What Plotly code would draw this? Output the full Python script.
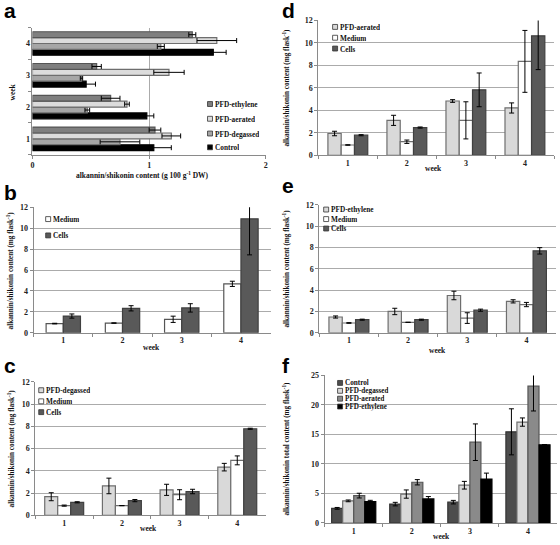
import plotly.graph_objects as go

W, H = 560, 545

weeks = ["1", "2", "3", "4"]

# ---- panel a (g 100 g-1 DW), horizontal ----
a_control = [1.04, 0.98, 0.46, 1.55]
a_control_err = [0.15, 0.06, 0.08, 0.11]
a_degassed = [0.75, 0.47, 0.42, 1.10]
a_degassed_err = [0.17, 0.02, 0.01, 0.03]
a_aerated = [1.19, 0.81, 1.17, 1.58]
a_aerated_err = [0.08, 0.02, 0.13, 0.17]
a_ethylene = [1.05, 0.67, 0.55, 1.37]
a_ethylene_err = [0.05, 0.08, 0.04, 0.03]

# ---- panel b ----
b_medium = [0.88, 0.93, 1.29, 4.68]
b_medium_err = [0.03, 0.02, 0.30, 0.25]
b_cells = [1.60, 2.34, 2.38, 10.9]
b_cells_err = [0.20, 0.25, 0.40, 3.45]

# ---- panel c ----
c_pfd = [1.68, 2.65, 2.30, 4.34]
c_pfd_err = [0.36, 0.70, 0.50, 0.34]
c_medium = [0.88, 0.88, 1.86, 4.95]
c_medium_err = [0.05, 0.0, 0.45, 0.40]
c_cells = [1.18, 1.33, 2.15, 7.79]
c_cells_err = [0.05, 0.10, 0.20, 0.05]

# ---- panel d ----
d_pfd = [1.95, 3.12, 4.84, 4.22]
d_pfd_err = [0.20, 0.45, 0.12, 0.45]
d_medium = [0.93, 1.22, 3.12, 8.36]
d_medium_err = [0.02, 0.15, 1.65, 2.75]
d_cells = [1.80, 2.48, 5.83, 10.63]
d_cells_err = [0.05, 0.05, 1.50, 3.0]

# ---- panel e ----
e_pfd = [1.48, 2.00, 3.50, 2.95]
e_pfd_err = [0.10, 0.30, 0.40, 0.15]
e_medium = [0.92, 0.98, 1.38, 2.65]
e_medium_err = [0.03, 0.0, 0.50, 0.20]
e_cells = [1.23, 1.23, 2.12, 7.69]
e_cells_err = [0.05, 0.05, 0.10, 0.30]

# ---- panel f (total) ----
f_control = [2.48, 3.20, 3.53, 15.45]
f_control_err = [0.15, 0.30, 0.30, 3.90]
f_degassed = [3.75, 4.90, 6.40, 17.10]
f_degassed_err = [0.15, 0.70, 0.65, 0.70]
f_aerated = [4.64, 6.90, 13.69, 23.18]
f_aerated_err = [0.40, 0.45, 3.10, 4.20]
f_ethylene = [3.64, 4.08, 7.45, 13.25]
f_ethylene_err = [0.20, 0.40, 1.00, 0.05]

SERIF = "Liberation Serif"
SANS = "Liberation Sans"
OUTLINE = "#6e6e6e"
GRID = "#ababab"
AXIS = "#8a8a8a"

fig = go.Figure()


def err(vals):
    return dict(type="data", array=vals, visible=True, color="black", thickness=1, width=2.5)


def vbar(y, e, color, name, ax, width, offset, line=OUTLINE):
    fig.add_trace(go.Bar(
        x=weeks, y=y, error_y=err(e), name=name, showlegend=False,
        marker=dict(color=color, line=dict(color=line, width=1.2)),
        width=width, offset=offset,
        xaxis="x" + ax, yaxis="y" + ax))


def hbar(x, e, color, name, width, offset, line=OUTLINE):
    fig.add_trace(go.Bar(
        y=weeks, x=x, error_x=err(e), name=name, orientation="h", showlegend=False,
        marker=dict(color=color, line=dict(color=line, width=1.2)),
        width=width, offset=offset, xaxis="x", yaxis="y"))


# panel a (bottom to top inside each week: Control, degassed, aerated, ethylene)
hbar(a_control, a_control_err, "#000000", "Control", 0.185, -0.37, line="#000000")
hbar(a_degassed, a_degassed_err, "#a6a6a6", "PFD-degassed", 0.185, -0.185)
hbar(a_aerated, a_aerated_err, "#dcdcdc", "PFD-aerated", 0.185, 0.0)
hbar(a_ethylene, a_ethylene_err, "#7f7f7f", "PFD-ethylene", 0.185, 0.185, line="#555555")

# panel b
vbar(b_medium, b_medium_err, "#ffffff", "Medium", "2", 0.29, -0.29, line="#555555")
vbar(b_cells, b_cells_err, "#595959", "Cells", "2", 0.29, 0.0, line="#404040")

# panel c
vbar(c_pfd, c_pfd_err, "#d9d9d9", "PFD-degassed", "3", 0.225, -0.3375)
vbar(c_medium, c_medium_err, "#ffffff", "Medium", "3", 0.225, -0.1125)
vbar(c_cells, c_cells_err, "#595959", "Cells", "3", 0.225, 0.1125, line="#404040")

# panel d
vbar(d_pfd, d_pfd_err, "#d9d9d9", "PFD-aerated", "4", 0.225, -0.3375)
vbar(d_medium, d_medium_err, "#ffffff", "Medium", "4", 0.225, -0.1125)
vbar(d_cells, d_cells_err, "#595959", "Cells", "4", 0.225, 0.1125, line="#404040")

# panel e
vbar(e_pfd, e_pfd_err, "#d9d9d9", "PFD-ethylene", "5", 0.225, -0.3375)
vbar(e_medium, e_medium_err, "#ffffff", "Medium", "5", 0.225, -0.1125)
vbar(e_cells, e_cells_err, "#595959", "Cells", "5", 0.225, 0.1125, line="#404040")

# panel f
vbar(f_control, f_control_err, "#4d4d4d", "Control", "6", 0.19, -0.38, line="#333333")
vbar(f_degassed, f_degassed_err, "#d9d9d9", "PFD-degassed", "6", 0.19, -0.19)
vbar(f_aerated, f_aerated_err, "#8a8a8a", "PFD-aerated", "6", 0.19, 0.0, line="#555555")
vbar(f_ethylene, f_ethylene_err, "#000000", "PFD-ethylene", "6", 0.19, 0.19, line="#000000")


def px(x):
    return x / W


def py(y):
    return 1 - y / H


tickfont = dict(family=SERIF, size=8, color="#222222", weight="bold")


def cat_axis(dom):
    return dict(domain=dom, type="category", categoryorder="array", categoryarray=weeks,
                range=[-0.5, 3.5], showline=True, linecolor=AXIS, linewidth=1,
                ticks="outside", tickson="boundaries", ticklen=3, tickcolor=AXIS,
                showgrid=False, zeroline=False, tickfont=tickfont, fixedrange=True)


def val_axis(dom, rng, dtick):
    return dict(domain=dom, range=rng, dtick=dtick, showline=True, linecolor=AXIS, linewidth=1,
                ticks="outside", ticklen=3, tickcolor=AXIS, showgrid=True, gridcolor=GRID,
                gridwidth=1, zeroline=False, tickfont=tickfont, fixedrange=True)


panels = {
    # name: (x0, x1, top, bottom) in px
    "a": (30.7, 265.7, 24, 153.3),
    "b": (31.9, 270.5, 206.7, 334.3),
    "c": (33.6, 266.0, 384.3, 520.0),
    "d": (318.6, 556.4, 16.7, 154.0),
    "e": (319.6, 558.0, 204.3, 334.3),
    "f": (325.0, 559.0, 377.7, 527.7),
}


def dom(p):
    x0, x1, t, b = panels[p]
    return [px(x0), px(x1)], [py(b), py(t)]


layout = dict(width=W, height=H, autosize=False, margin=dict(l=0, r=0, t=0, b=0),
              paper_bgcolor="white", plot_bgcolor="white", barmode="overlay", showlegend=False,
              hovermode=False)

# panel a axes
dx, dy = dom("a")
ax_a = val_axis(dx, [0, 2], 1)
ax_a.update(tickvals=[0, 1, 2])
layout["xaxis"] = dict(ax_a, anchor="y")
ay_a = cat_axis(dy)
layout["yaxis"] = dict(ay_a, anchor="x")

for i, (p, rng, dt) in enumerate([("b", [0, 12], 2), ("c", [0, 12], 2), ("d", [0, 12], 2),
                                  ("e", [0, 12], 2), ("f", [0, 25], 5)], start=2):
    dx, dy = dom(p)
    layout["xaxis%d" % i] = dict(cat_axis(dx), anchor="y%d" % i)
    layout["yaxis%d" % i] = dict(val_axis(dy, rng, dt), anchor="x%d" % i)

fig.update_layout(**layout)

annotations = []
shapes = []


def text(x, y, s, size=7.5, angle=0, xanchor="center", family=SERIF, weight="bold",
         color="#111111", height=None):
    a = dict(x=px(x), y=py(y), xref="paper", yref="paper", text=s, showarrow=False,
             textangle=angle, xanchor=xanchor, yanchor="middle", borderpad=0,
             font=dict(family=family, size=size, color=color, weight=weight))
    if height:
        a["height"] = height
    annotations.append(a)


def legend(sx, ys, items, size=7.3):
    step = min(ys[i + 1] - ys[i] for i in range(len(ys) - 1))
    for yy, (label, color) in zip(ys, items):
        shapes.append(dict(type="rect", xref="paper", yref="paper",
                           x0=px(sx), x1=px(sx + 5), y0=py(yy + 2.5), y1=py(yy - 2.5),
                           fillcolor=color, line=dict(color="#333333", width=0.8)))
        text(sx + 6.5, yy, label, size=size, xanchor="left", height=min(step - 0.5, size + 3))


# panel letters
for letter, x, y in [("a", 1, 7), ("b", 1, 192), ("c", 1, 368), ("d", 281, 7), ("e", 281, 185), ("f", 281, 368)]:
    text(x, y, letter, size=21, xanchor="left", family=SANS, weight="bold", color="#000000")

# axis titles
text(142, 174, "alkannin/shikonin content (g 100 g<sup>-1</sup> DW)", size=7.5)
text(11, 89, "week", angle=-90)
ylab = "alkannin/shikonin content (mg flask<sup>-1</sup>)"
text(9, 271, ylab, size=7.2, angle=-90)
text(151, 349, "week")
text(10, 452, ylab, size=7.2, angle=-90)
text(148, 533, "week")
text(287, 85, ylab, size=7.2, angle=-90)
text(435, 167, "week")
text(287, 269, ylab, size=7.2, angle=-90)
text(439, 352, "week")
text(287, 452, "alkannin/shikonin total content (mg flask<sup>-1</sup>)", size=7.2, angle=-90)
text(443, 541, "week")

# legends
legend(207, [101.7, 116.7, 131.7, 145.7],
       [("PFD-ethylene", "#7f7f7f"), ("PFD-aerated", "#dcdcdc"),
        ("PFD-degassed", "#a6a6a6"), ("Control", "#000000")])
legend(44, [218.7, 235.3], [("Medium", "#ffffff"), ("Cells", "#595959")])
legend(37, [392.7, 404, 415], [("PFD-degassed", "#d9d9d9"), ("Medium", "#ffffff"), ("Cells", "#595959")])
legend(333, [23.3, 34.3, 45.3], [("PFD-aerated", "#d9d9d9"), ("Medium", "#ffffff"), ("Cells", "#595959")])
legend(324, [209, 218.7, 228.3], [("PFD-ethylene", "#d9d9d9"), ("Medium", "#ffffff"), ("Cells", "#595959")])
legend(338, [385.3, 393.3, 401.3, 409.3],
       [("Control", "#4d4d4d"), ("PFD-degassed", "#d9d9d9"),
        ("PFD-aerated", "#8a8a8a"), ("PFD-ethylene", "#000000")], size=7.2)

fig.update_layout(annotations=annotations, shapes=shapes)

fig.write_html("out.html", config={"displayModeBar": False, "staticPlot": True},
               post_script="document.body.style.margin='0';document.body.style.overflow='hidden';")
